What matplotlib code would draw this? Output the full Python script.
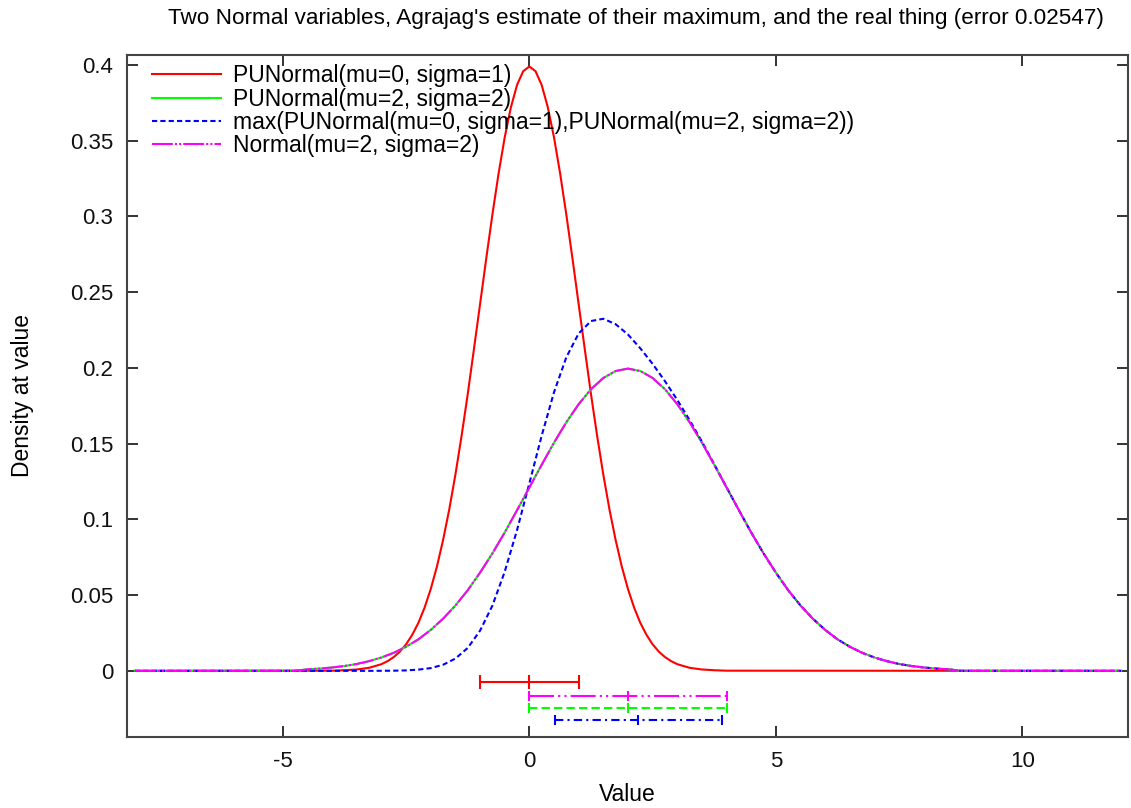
import numpy as np
from matplotlib import pyplot as plt

plt.rcParams['font.family'] = ['Liberation Sans', 'DejaVu Sans']
plt.rcParams['axes.unicode_minus'] = False

# sample points for the standard normal curve
xs_red = [-8.0, -4.0, -3.75, -3.5, -3.25, -3.0, -2.875, -2.75, -2.625, -2.5, -2.375, -2.25, -2.125,
          -2.0, -1.875, -1.75, -1.625, -1.5, -1.375, -1.25, -1.125, -1.0, -0.875, -0.75, -0.625,
          -0.5, -0.375, -0.25, -0.125, 0.0, 0.125, 0.25, 0.375, 0.5, 0.625, 0.75, 0.875,
          1.0, 1.125, 1.25, 1.375, 1.5, 1.625, 1.75, 1.875, 2.0, 2.125, 2.25, 2.375,
          2.5, 2.625, 2.75, 2.875, 3.0, 3.25, 3.5, 3.75, 4.0, 12.0]
red = [0.0, 0.0001, 0.0004, 0.0009, 0.0020, 0.0044, 0.0064, 0.0091, 0.0127, 0.0175, 0.0238, 0.0317, 0.0417,
       0.0540, 0.0688, 0.0863, 0.1065, 0.1295, 0.1550, 0.1826, 0.2121, 0.2420, 0.2720, 0.3011, 0.3281,
       0.3521, 0.3719, 0.3867, 0.3958, 0.3989, 0.3958, 0.3867, 0.3719, 0.3521, 0.3281, 0.3011, 0.2720,
       0.2420, 0.2121, 0.1826, 0.1550, 0.1295, 0.1065, 0.0863, 0.0688, 0.0540, 0.0417, 0.0317, 0.0238,
       0.0175, 0.0127, 0.0091, 0.0064, 0.0044, 0.0020, 0.0009, 0.0004, 0.0001, 0.0]

# sample points for the other three curves
xs = [-8.0,
      -5.0, -4.75, -4.5, -4.25, -4.0, -3.75, -3.5, -3.25, -3.0, -2.75, -2.5, -2.25,
      -2.0, -1.75, -1.5, -1.25, -1.0, -0.75, -0.5, -0.25,
      0.0, 0.25, 0.5, 0.75, 1.0, 1.25, 1.5, 1.75, 2.0, 2.25, 2.5, 2.75,
      3.0, 3.25, 3.5, 3.75, 4.0, 4.25, 4.5, 4.75, 5.0, 5.25, 5.5, 5.75,
      6.0, 6.25, 6.5, 6.75, 7.0, 7.25, 7.5, 7.75, 8.0, 8.25, 8.5, 8.75, 9.0,
      12.0]

green = [0.0,
         0.0, 0.0, 0.0010, 0.0015, 0.0022, 0.0032, 0.0045, 0.0064, 0.0088, 0.0119, 0.0159, 0.0208,
         0.0270, 0.0344, 0.0431, 0.0532, 0.0648, 0.0775, 0.0913, 0.1060,
         0.1210, 0.1360, 0.1506, 0.1641, 0.1760, 0.1859, 0.1933, 0.1979, 0.1995, 0.1979, 0.1933, 0.1859,
         0.1760, 0.1641, 0.1506, 0.1360, 0.1210, 0.1060, 0.0913, 0.0775, 0.0648, 0.0532, 0.0431, 0.0344,
         0.0270, 0.0208, 0.0159, 0.0119, 0.0088, 0.0064, 0.0045, 0.0032, 0.0022, 0.0015, 0.0010, 0.0, 0.0,
         0.0]

blue = [0.0,
        0.0, 0.0, 0.0, 0.0, 0.0, 0.0, 0.0, 0.0, 0.00004, 0.0001, 0.0003, 0.0008,
        0.0018, 0.0040, 0.0081, 0.0151, 0.0265, 0.0430, 0.0654, 0.0929,
        0.1238, 0.1552, 0.1839, 0.2070, 0.2227, 0.2309, 0.2324, 0.2288, 0.2220, 0.2129, 0.2026, 0.1912,
        0.1788, 0.1655, 0.1513, 0.1363, 0.1211, 0.1060, 0.0913, 0.0775, 0.0648, 0.0532, 0.0431, 0.0344,
        0.0270, 0.0208, 0.0159, 0.0119, 0.0088, 0.0064, 0.0045, 0.0032, 0.0022, 0.0015, 0.0010, 0.0, 0.0,
        0.0]

magenta = [0.0,
           0.0, 0.0, 0.0010, 0.0015, 0.0022, 0.0032, 0.0045, 0.0064, 0.0088, 0.0119, 0.0159, 0.0208,
           0.0270, 0.0344, 0.0431, 0.0532, 0.0648, 0.0775, 0.0913, 0.1060,
           0.1210, 0.1360, 0.1506, 0.1641, 0.1760, 0.1859, 0.1933, 0.1979, 0.1995, 0.1979, 0.1933, 0.1859,
           0.1760, 0.1641, 0.1506, 0.1360, 0.1210, 0.1060, 0.0913, 0.0775, 0.0648, 0.0532, 0.0431, 0.0344,
           0.0270, 0.0208, 0.0159, 0.0119, 0.0088, 0.0064, 0.0045, 0.0032, 0.0022, 0.0015, 0.0010, 0.0, 0.0,
           0.0]

# mean and standard deviation of each distribution: red, green, blue, magenta
means = [0.0, 2.0, 2.21, 2.0]
sds = [1.0, 2.0, 1.70, 2.0]

labels = ["PUNormal(mu=0, sigma=1)",
          "PUNormal(mu=2, sigma=2)",
          "max(PUNormal(mu=0, sigma=1),PUNormal(mu=2, sigma=2))",
          "Normal(mu=2, sigma=2)"]

title = "Two Normal variables, Agrajag's estimate of their maximum, and the real thing (error 0.02547)"

fig = plt.figure(figsize=(11.31, 8.08), dpi=100)
ax = fig.add_axes([0.1123, 0.088, 0.885, 0.8445])

lw = 1.5
ax.plot(xs_red, red, c="#ff0000", lw=lw, label=labels[0])
ax.plot(xs, green, c="#00ff00", lw=lw, label=labels[1])
ax.plot(xs, blue, c="#0000ff", lw=lw, linestyle=(0, (2.5, 1.5)), label=labels[2])
ax.plot(xs, magenta, c="#ff00ff", lw=lw, linestyle=(0, (10, 1, 1, 1, 1, 1)), label=labels[3])

# error bars: mean +- sd, stacked below zero
bar_y = [-0.0075, -0.0246, -0.0323, -0.0165]
bar_c = ["#ff0000", "#00ff00", "#0000ff", "#ff00ff"]
bar_ls = ["-", (0, (4, 2)), (0, (4, 2, 1, 2)), (0, (12, 2, 1, 2, 1, 2))]
bar_cap = [5, 3.5, 3.5, 3.5]
for m, s, y, c, ls, cap in zip(means, sds, bar_y, bar_c, bar_ls, bar_cap):
    eb = ax.errorbar([m], [y], xerr=[s], fmt="none", ecolor=c, elinewidth=lw,
                     capsize=cap, capthick=lw)
    eb[2][0].set_linestyle(ls)
    ax.plot([m], [y], marker="|", ms=cap * 2, mew=lw, c=c, linestyle="none")

ax.set_xlim([-8.16, 12.14])
ax.set_ylim([-0.0436, 0.4068])
ax.set_xticks([-5, 0, 5, 10])
ax.set_yticks([0, 0.05, 0.1, 0.15, 0.2, 0.25, 0.3, 0.35, 0.4])
ax.set_yticklabels(["0", "0.05", "0.1", "0.15", "0.2", "0.25", "0.3", "0.35", "0.4"])
ax.tick_params(direction="in", length=8, width=1.2, top=True, right=True,
               labelsize=16, pad=10, colors="#111111")
for sp in ax.spines.values():
    sp.set_linewidth(1.5)
    sp.set_color("#444444")

ax.set_xlabel("Value", fontsize=16.5, labelpad=8)
ax.set_ylabel("Density at value", fontsize=16.5, labelpad=26)
fig.text(0.5623, 0.977, title, fontsize=16.2, ha="center", va="center")

ax.legend(loc="upper left", bbox_to_anchor=(0.025, 0.986), frameon=False, fontsize=16.5,
          handlelength=3.0, handletextpad=0.55, labelspacing=0.02, borderpad=0,
          borderaxespad=0)

plt.savefig("out.png", dpi=100)
